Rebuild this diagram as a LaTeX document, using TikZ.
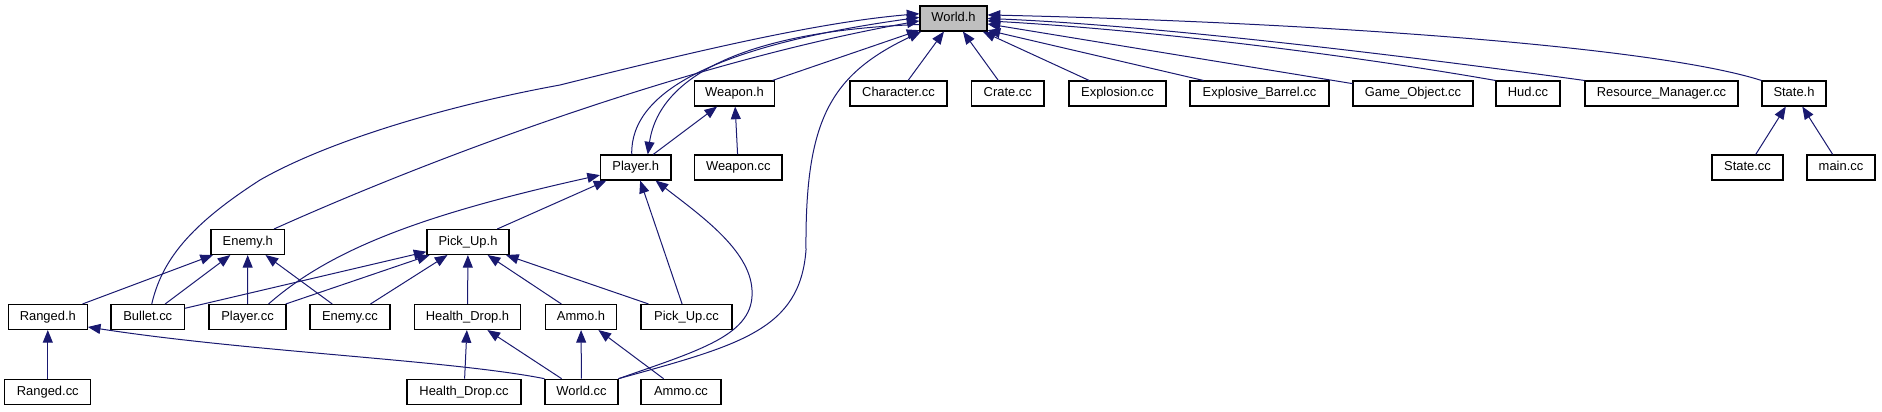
\documentclass[tikz,border=0pt]{standalone}
\usepackage{fontspec}
\setmainfont{Liberation Sans}
\usetikzlibrary{arrows.meta,calc}
\definecolor{edgecol}{HTML}{191970}
\definecolor{hl}{HTML}{BFBFBF}
\begin{document}
\begin{tikzpicture}[x=0.75pt,y=-0.75pt,
  nd/.style={draw=black,line width=0.8pt,fill=white,minimum height=18.75pt,inner sep=0pt,text height=7pt,text depth=2pt,font=\fontsize{9.7}{11}\selectfont},
  bw/.style={minimum width=#1*0.75pt},
  e/.style={draw=edgecol,line width=0.75pt,-{Triangle[length=9.5pt,width=7.5pt]}}]
\useasboundingbox (0,0) rectangle (1882,411);
% row 1
\node[nd,bw=67,fill=hl] (worldh) at (953.5,18.5) {World.h};
% row 2
\node[nd,bw=80] (weaponh) at (734.5,93.5) {Weapon.h};
\node[nd,bw=97] (character) at (898.5,93.5) {Character.cc};
\node[nd,bw=72.5] (crate) at (1007.75,93.5) {Crate.cc};
\node[nd,bw=97] (explosion) at (1117.5,93.5) {Explosion.cc};
\node[nd,bw=139] (barrel) at (1259.5,93.5) {Explosive\_Barrel.cc};
\node[nd,bw=120] (gameobj) at (1413,93.5) {Game\_Object.cc};
\node[nd,bw=64] (hud) at (1528,93.5) {Hud.cc};
\node[nd,bw=153] (resmgr) at (1661.5,93.5) {Resource\_Manager.cc};
\node[nd,bw=64] (stateh) at (1794,93.5) {State.h};
% row 3
\node[nd,bw=70.5] (playerh) at (635.75,167.5) {Player.h};
\node[nd,bw=87.5] (weaponcc) at (738.25,167.5) {Weapon.cc};
\node[nd,bw=71] (statecc) at (1747.5,167.5) {State.cc};
\node[nd,bw=68] (maincc) at (1841,167.5) {main.cc};
% row 4
\node[nd,bw=73.5] (enemyh) at (247.75,242) {Enemy.h};
\node[nd,bw=82] (pickuph) at (468,242) {Pick\_Up.h};
% row 5
\node[nd,bw=79] (rangedh) at (47.8,317) {Ranged.h};
\node[nd,bw=73.5] (bulletcc) at (147.75,317) {Bullet.cc};
\node[nd,bw=77] (playercc) at (247.5,317) {Player.cc};
\node[nd,bw=80] (enemycc) at (350,317) {Enemy.cc};
\node[nd,bw=106.4] (healthh) at (467.5,317) {Health\_Drop.h};
\node[nd,bw=70.6] (ammoh) at (581,317) {Ammo.h};
\node[nd,bw=91] (pickupcc) at (686.5,317) {Pick\_Up.cc};
% row 6
\node[nd,bw=85.7] (rangedcc) at (47.8,391.7) {Ranged.cc};
\node[nd,bw=114] (healthcc) at (464,391.7) {Health\_Drop.cc};
\node[nd,bw=73] (worldcc) at (581.5,391.7) {World.cc};
\node[nd,bw=80] (ammocc) at (681,391.7) {Ammo.cc};

% edges to World.h (right side)
\draw[e] (character) -- (worldh);
\draw[e] (crate) -- (worldh);
\draw[e] (explosion) -- (worldh.-24);
\draw[e] (barrel) -- (worldh.-19);
\draw[e] (gameobj) -- (worldh.-9);
\draw[e] (hud.north west) .. controls (1350,55) and (1150,30) .. (worldh.-4);
\draw[e] (resmgr.north west) .. controls (1400,55) and (1150,25) .. (worldh.east);
\draw[e] (stateh.north west) .. controls (1650,45) and (1300,22) .. (worldh.6);
% edges to World.h (left side)
\draw[e] (weaponh) -- (worldh);
\draw[e] ($(bulletcc.north)+(4,0)$) .. controls (162,260) and (190,225) .. (260,180)
   .. controls (330,140) and (450,105) .. (560,85)
   .. controls (700,50) and (820,22) .. (worldh.172);
\draw[e] ($(enemyh.north east)+(-11,0)$) .. controls (450,150) and (700,60) .. (worldh.184);
\draw[e] ($(playerh.north)+(-4,0)$) .. controls (630,90) and (720,45) .. (worldh.178);
\draw[e] (worldcc.north east) .. controls (740,345) and (800,330) .. (806,250)
   .. controls (805,120) and (830,75) .. (worldh.-158);
% World.h -> Player.h
\draw[e] (worldh.190) .. controls (760,30) and (660,70) .. ($(playerh.north)+(12,0)$);
% State.h
\draw[e] (statecc) -- (stateh);
\draw[e] (maincc) -- (stateh);
% Weapon.h
\draw[e] (playerh) -- (weaponh);
\draw[e] (weaponcc) -- (weaponh);
% Player.h
\draw[e] ($(playercc.north east)+(-18,0)$) .. controls (330,250) and (420,215) .. (playerh.192);
\draw[e] (pickuph) -- (playerh);
\draw[e] (pickupcc) -- (playerh);
\draw[e] (worldcc.north east) .. controls (700,350) and (755,335) .. (752,290)
   .. controls (750,250) and (700,215) .. ($(playerh.south east)+(-16,0)$);
% Enemy.h
\draw[e] (rangedh) -- (enemyh);
\draw[e] (bulletcc) -- (enemyh);
\draw[e] (playercc) -- (enemyh);
\draw[e] (enemycc) -- (enemyh);
% Pick_Up.h
\draw[e] (bulletcc) -- (pickuph);
\draw[e] (playercc) -- (pickuph);
\draw[e] (enemycc) -- (pickuph);
\draw[e] (healthh) -- (pickuph);
\draw[e] (ammoh) -- (pickuph);
\draw[e] (pickupcc) -- (pickuph);
% Ranged.h
\draw[e] (rangedcc) -- (rangedh);
\draw[e] (worldcc.north west) .. controls (450,360) and (250,352) .. (rangedh.-14);
% Health_Drop.h
\draw[e] (healthcc) -- (healthh);
\draw[e] (worldcc) -- (healthh);
% Ammo.h
\draw[e] (worldcc) -- (ammoh);
\draw[e] (ammocc) -- (ammoh);
\end{tikzpicture}
\end{document}
